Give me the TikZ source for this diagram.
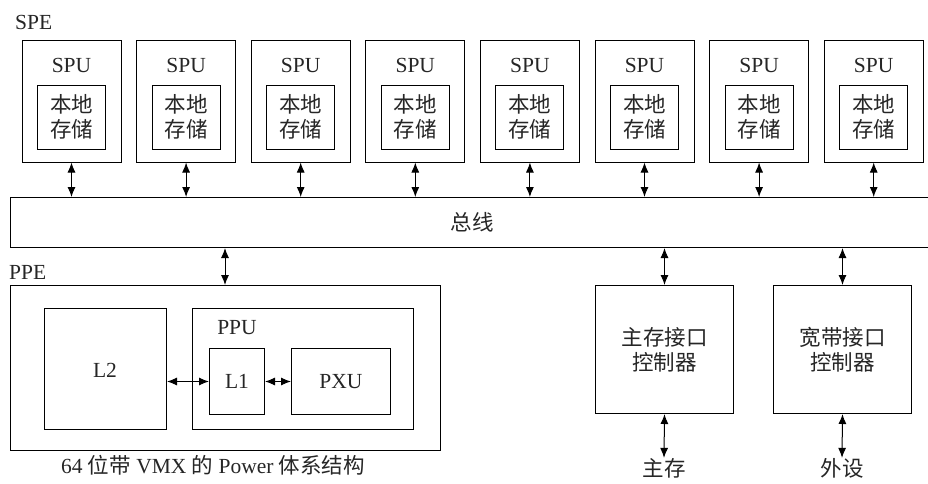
\documentclass[tikz,border=0pt]{standalone}
\usepackage{fontspec}
\setmainfont{Liberation Serif}
\newfontfamily\cjk{Noto Sans CJK SC}
\usetikzlibrary{arrows.meta}
\begin{document}
\begin{tikzpicture}[x=1pt,y=-1pt,
  box/.style={draw, line width=1pt, inner sep=0pt, align=center},
  txt/.style={inner sep=0pt, align=center, font=\fontsize{21.5}{25}\selectfont, text=black!85},
  arr/.style={{Latex[length=10pt,width=8pt]}-{Latex[length=10pt,width=8pt]}, line width=1pt}]
\clip (0,0) rectangle (928,483);
\fill[white] (0,0) rectangle (928,483);
% SPE
\node[txt, anchor=west] (spelab) at (15,22) {SPE};
\node[box, minimum width=918pt, minimum height=50pt, anchor=north west] (bus) at (10,197) {};
\node[txt] (buslab) at (472,222) {\cjk 总线};
\foreach \i in {1,...,8}{
  \pgfmathsetmacro{\cx}{71.5+(\i-1)*114.6}
  \node[box, minimum width=99pt, minimum height=122pt] (spe\i) at (\cx,101) {};
  \node[txt] (spu\i) at (\cx,65) {SPU};
  \node[box, txt, draw, line width=1pt, minimum width=68pt, minimum height=64pt] (ls\i) at (\cx,117) {\cjk 本地\\\cjk 存储};
  \draw[arr] (spe\i.south) -- (spe\i.south |- bus.north);
}
% PPE
\node[txt, anchor=west] (ppelab) at (9,272) {PPE};
\node[box, minimum width=430pt, minimum height=165pt, anchor=north west] (ppe) at (10,285) {};
\coordinate (pa) at (225,0);
\draw[arr] (bus.south -| pa) -- (ppe.north -| pa);
\node[box, minimum width=122pt, minimum height=121pt, anchor=north west] (l2) at (44,308) {};
\node[txt] (l2lab) at (105,370) {L2};
\node[box, minimum width=221pt, minimum height=121pt, anchor=north west] (ppu) at (192,308) {};
\node[txt] (ppulab) at (237,328) {PPU};
\node[box, txt, draw, line width=1pt, minimum width=55pt, minimum height=66pt, anchor=north west] (l1) at (209,348) {L1};
\node[box, txt, draw, line width=1pt, minimum width=99pt, minimum height=66pt, anchor=north west] (pxu) at (291,348) {PXU};
\draw[arr] (l2.east |- l1.west) -- (l1.west);
\draw[arr] (l1.east) -- (pxu.west);
\node[txt] (cap) at (213,465) {64 {\cjk 位带} VMX {\cjk 的} Power {\cjk 体系结构}};
% controllers
\node[box, txt, draw, line width=1pt, minimum width=138pt, minimum height=128pt, anchor=north west] (mc) at (595,285) {\cjk 主存接口\\\cjk 控制器};
\node[box, txt, draw, line width=1pt, minimum width=138pt, minimum height=128pt, anchor=north west] (bc) at (773,285) {\cjk 宽带接口\\\cjk 控制器};
\draw[arr] (mc.north |- bus.south) -- (mc.north);
\draw[arr] (bc.north |- bus.south) -- (bc.north);
\node[txt] (mem) at (664,468) {\cjk 主存};
\node[txt] (per) at (842,468) {\cjk 外设};
\draw[arr] (mc.south) -- (mem.north);
\draw[arr] (bc.south) -- (per.north);
\end{tikzpicture}
\end{document}
